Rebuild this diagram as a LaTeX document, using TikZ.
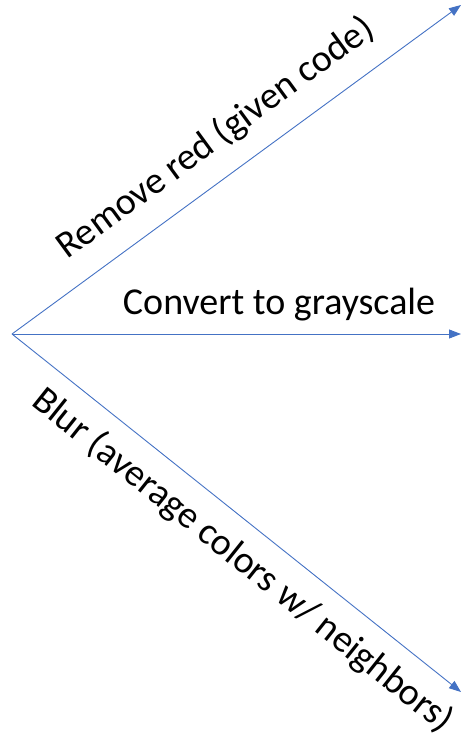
\documentclass[tikz,border=0pt]{standalone}
\usepackage{fontspec}
\setmainfont{Carlito}
\usetikzlibrary{arrows.meta}
\definecolor{arrowblue}{RGB}{68,114,196}
\begin{document}
\begin{tikzpicture}[x=1pt,y=-1pt,
  conn/.style={draw=arrowblue,line width=0.9pt,-{Triangle[length=12pt,width=9pt]}},
  lbl/.style={font=\fontsize{38}{44}\selectfont,inner sep=0pt,anchor=base}]
\useasboundingbox (0,0) rectangle (466,754);
\coordinate (o) at (12,334);
\coordinate (t) at (461,5);
\coordinate (m) at (461,334);
\coordinate (b) at (461,692);
\draw[conn] (o) -- (t);
\draw[conn] (o) -- (m);
\draw[conn] (o) -- (b);
\node[lbl,rotate=36.2] (lt) at (222,147) {Remove red (given code)};
\node[lbl] (lm) at (279,314) {Convert to grayscale};
\node[lbl,rotate=-38.6] (lb) at (236,569) {Blur (average colors w/ neighbors)};
\end{tikzpicture}
\end{document}
